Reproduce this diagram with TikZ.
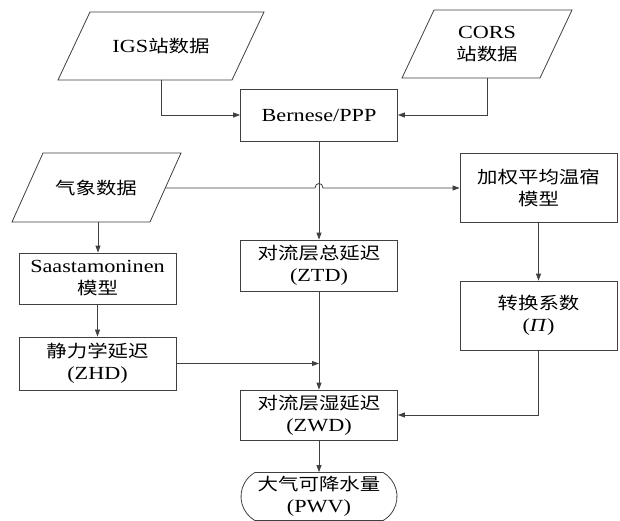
\documentclass[tikz,border=0pt]{standalone}
\usepackage{fontspec}
\setmainfont[FakeStretch=1.2]{Liberation Serif}
\newfontfamily\cjkfont[FakeStretch=1.2,Scale=0.92]{Noto Sans CJK SC}
\newcommand\zhtxt[1]{{\cjkfont #1}}
\usetikzlibrary{arrows.meta,shapes.misc}
\begin{document}
\begin{tikzpicture}[x=1pt,y=-1pt,
  every node/.style={font=\fontsize{18.5}{22}\selectfont, text=black, align=center},
  boxnode/.style={draw=black!75, line width=0.8pt, inner sep=0pt, minimum width=157pt},
  conn/.style={draw=black!75, line width=0.8pt},
  arr/.style={conn, -{Triangle[length=7pt,width=5pt]}},
  shapeline/.style={draw=black!75, line width=0.8pt}]
\useasboundingbox (0,0) rectangle (620,521);
\fill[white] (0,0) rectangle (620,521);

% parallelograms (input data)
\draw[shapeline] (90,12) -- (264,12) -- (232,80) -- (58,80) -- cycle;
\node (igs) at (161,46) {IGS\zhtxt{站数据}};
\coordinate (igsb) at (161,80);

\draw[shapeline] (434,10) -- (572,10) -- (540,78) -- (402,78) -- cycle;
\node (cors) at (487,44) {CORS\\\zhtxt{站数据}};
\coordinate (corsb) at (487,78);

\draw[shapeline] (43,153) -- (181,153) -- (150,222) -- (12,222) -- cycle;
\node (met) at (96,188) {\zhtxt{气象数据}};
\coordinate (metr) at (165.3,188);
\coordinate (metb) at (98,222);

% boxes
\node[boxnode, minimum height=52pt] (bern) at (319,115) {Bernese/PPP};
\node[boxnode, minimum height=51pt] (ztd) at (319,265.5) {\zhtxt{对流层总延迟}\\(ZTD)};
\node[boxnode, minimum height=50pt] (zwd) at (319,415) {\zhtxt{对流层湿延迟}\\(ZWD)};
\node[boxnode, minimum height=51pt] (saast) at (97.5,278.5) {Saastamoninen\\\zhtxt{模型}};
\node[boxnode, minimum height=53pt] (zhd) at (97.5,363.5) {\zhtxt{静力学延迟}\\(ZHD)};
\node[boxnode, minimum height=69pt] (wt) at (538.5,188) {\zhtxt{加权平均温宿}\\\zhtxt{模型}};
\node[boxnode, minimum height=69pt] (conv) at (538.5,315.5) {\zhtxt{转换系数}\\(\textit{Π})};
\node[draw=black!75, line width=0.8pt, rounded rectangle, rounded rectangle arc length=120,
      inner sep=0pt, minimum width=156pt, minimum height=48pt] (pwv) at (319,496.5)
      {\zhtxt{大气可降水量}\\(PWV)};

% connectors
\draw[arr] (igsb) |- (bern.west);
\draw[arr] (corsb) |- (bern.east);
\draw[arr] (bern.south) -- (ztd.north);
\draw[arr] (metr) -- (315,188) .. controls (315,182) and (323,182) .. (323,188) -- (wt.west);
\draw[arr] (metb) -- (metb |- saast.north);
\draw[arr] (saast.south) -- (saast.south |- zhd.north);
\draw[arr] (zhd.east) -- (ztd.south |- zhd.east);
\draw[arr] (ztd.south) -- (zwd.north);
\draw[arr] (wt.south) -- (conv.north);
\draw[arr] (conv.south) |- (zwd.east);
\draw[arr] (zwd.south) -- (pwv.north);
\end{tikzpicture}
\end{document}
